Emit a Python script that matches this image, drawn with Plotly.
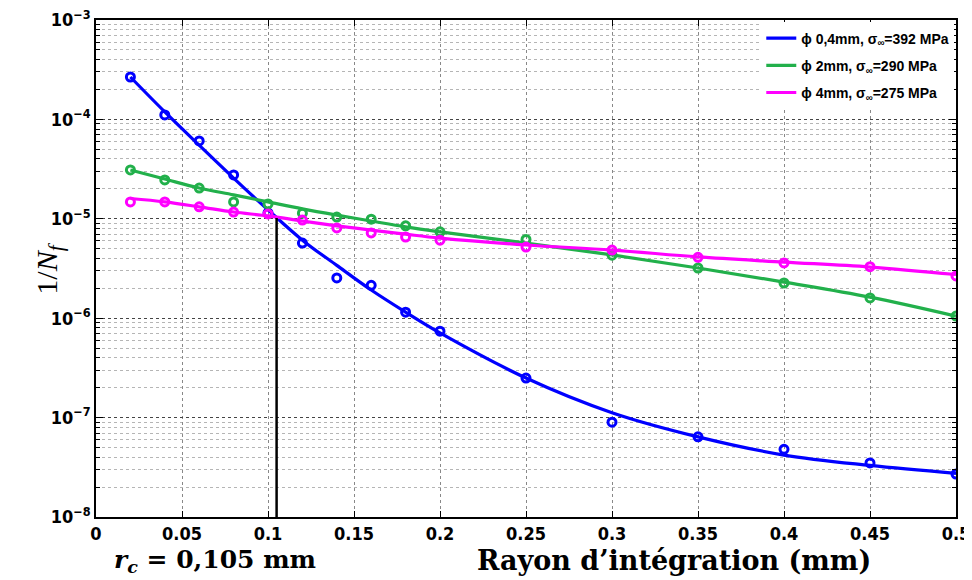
import plotly.graph_objects as go

# rayon d'intégration (mm)
rayon = [0.02, 0.04, 0.06, 0.08, 0.10, 0.12, 0.14, 0.16, 0.18, 0.20, 0.25, 0.30, 0.35, 0.40, 0.45, 0.50]

# points simulés 1/Nf
pts_04mm = [2.67e-4, 1.11e-4, 6.07e-5, 2.76e-5, 1.15e-5, 5.7e-6, 2.54e-6, 2.14e-6, 1.15e-6, 7.4e-7,
            2.5e-7, 9.0e-8, 6.4e-8, 4.8e-8, 3.5e-8, 2.7e-8]
pts_2mm = [3.10e-5, 2.46e-5, 2.04e-5, 1.48e-5, 1.41e-5, 1.14e-5, 1.04e-5, 9.9e-6, 8.5e-6, 7.4e-6,
           6.2e-6, 4.3e-6, 3.2e-6, 2.26e-6, 1.6e-6, 1.05e-6]
pts_4mm = [1.48e-5, 1.48e-5, 1.32e-5, 1.17e-5, 1.12e-5, 9.7e-6, 8.1e-6, 7.2e-6, 6.56e-6, 6.1e-6,
           5.2e-6, 4.85e-6, 4.1e-6, 3.6e-6, 3.3e-6, 2.66e-6]

# courbes d'ajustement
fit_04mm = [2.67e-4, 1.19e-4, 5.5e-5, 2.57e-5, 1.23e-5, 6.1e-6, 3.4e-6, 1.92e-6, 1.15e-6, 7.1e-7,
            2.5e-7, 1.12e-7, 6.4e-8, 4.2e-8, 3.3e-8, 2.75e-8]
fit_2mm = [3.10e-5, 2.51e-5, 2.04e-5, 1.74e-5, 1.48e-5, 1.26e-5, 1.09e-5, 9.5e-6, 8.3e-6, 7.4e-6,
           5.7e-6, 4.33e-6, 3.2e-6, 2.31e-6, 1.63e-6, 1.05e-6]
fit_4mm = [1.60e-5, 1.48e-5, 1.32e-5, 1.17e-5, 1.07e-5, 9.5e-6, 8.5e-6, 7.7e-6, 7.0e-6, 6.4e-6,
           5.45e-6, 4.85e-6, 4.13e-6, 3.67e-6, 3.27e-6, 2.75e-6]

series = [
    ("ϕ 0,4mm, σ<sub>∞</sub>=392 MPa", pts_04mm, fit_04mm, "#0000ff"),
    ("ϕ 2mm, σ<sub>∞</sub>=290 MPa", pts_2mm, fit_2mm, "#22b04b"),
    ("ϕ 4mm, σ<sub>∞</sub>=275 MPa", pts_4mm, fit_4mm, "#ff00ff"),
]

r_c = 0.105
nf_c = 1.02e-5

ytick_vals = [1e-8, 1e-7, 1e-6, 1e-5, 1e-4, 1e-3]
ytick_text = ["10<sup>−8</sup>", "10<sup>−7</sup>", "10<sup>−6</sup>", "10<sup>−5</sup>",
              "10<sup>−4</sup>", "10<sup>−3</sup>"]
xtick_vals = [0, 0.05, 0.1, 0.15, 0.2, 0.25, 0.3, 0.35, 0.4, 0.45, 0.5]
xtick_text = ["0", "0.05", "0.1", "0.15", "0.2", "0.25", "0.3", "0.35", "0.4", "0.45", "0.5"]

fig = go.Figure()

for i, (nom, pts, fit, col) in enumerate(series):
    fig.add_trace(go.Scatter(
        x=rayon, y=fit, mode="lines", name=nom, legendgroup=str(i),
        line=dict(color=col, width=3.2, shape="spline"),
    ))
    fig.add_trace(go.Scatter(
        x=rayon, y=pts, mode="markers", showlegend=False, legendgroup=str(i),
        marker=dict(symbol="circle-open", size=8, color=col, line=dict(width=3, color=col)),
    ))

# rayon critique
fig.add_trace(go.Scatter(
    x=[r_c, r_c], y=[1e-8, nf_c], mode="lines", showlegend=False,
    line=dict(color="black", width=2.5),
))

tick_font = dict(family="Liberation Sans Narrow, DejaVu Sans Condensed, Liberation Sans",
                 size=18, color="black", weight="bold")
serif = "DejaVu Serif, Liberation Serif"

# la page a une marge de 8 px : figure réduite d'autant
fig.update_layout(
    width=964,
    height=572,
    margin=dict(l=88, r=16, t=12, b=63),
    plot_bgcolor="white",
    paper_bgcolor="white",
    font=dict(family="Liberation Sans, Arial", color="black"),
    legend=dict(
        x=0.998, y=0.995, xanchor="right", yanchor="top",
        bgcolor="white", borderwidth=0,
        font=dict(family="Liberation Sans, Arial", size=14, color="black", weight="bold"),
        traceorder="grouped", tracegroupgap=6, itemwidth=30,
    ),
    xaxis=dict(
        range=[0, 0.5],
        tickvals=xtick_vals, ticktext=xtick_text,
        tickfont=tick_font, ticklabeloverflow="allow", automargin=False,
        ticks="inside", ticklen=6, tickcolor="black",
        showline=True, linecolor="black", linewidth=1.5, mirror="ticks",
        showgrid=True, gridcolor="#888888", griddash="dot", gridwidth=1,
        zeroline=False,
    ),
    yaxis=dict(
        type="log",
        range=[-8, -3],
        tickvals=ytick_vals, ticktext=ytick_text,
        tickfont=tick_font, ticklabeloverflow="allow", automargin=False,
        ticks="inside", ticklen=7, tickcolor="black",
        showline=True, linecolor="black", linewidth=1.5, mirror="ticks",
        showgrid=True, gridcolor="#444444", griddash="dot", gridwidth=1,
        minor=dict(dtick="D1", ticks="inside", ticklen=4, tickcolor="black",
                   showgrid=True, gridcolor="#b5b5b5", griddash="dot", gridwidth=1),
        zeroline=False,
    ),
    annotations=[
        dict(text="1/<i>N</i><sub><i>f</i></sub>", xref="paper", yref="paper",
             x=-0.08, y=0.5, textangle=-90, showarrow=False,
             font=dict(family="Liberation Serif, DejaVu Serif", size=30, color="black")),
        dict(text="Rayon d’intégration (mm)", xref="paper", yref="paper",
             x=0.672, y=-0.088, xanchor="center", yanchor="middle", showarrow=False,
             font=dict(family=serif, size=27, color="black", weight="bold")),
        dict(text="<i>r</i><sub><i>c</i></sub> = 0,105 mm", xref="paper", yref="paper",
             x=0.138, y=-0.088, xanchor="center", yanchor="middle", showarrow=False,
             font=dict(family=serif, size=25, color="black", weight="bold")),
    ],
)

fig.write_html("out.html")
